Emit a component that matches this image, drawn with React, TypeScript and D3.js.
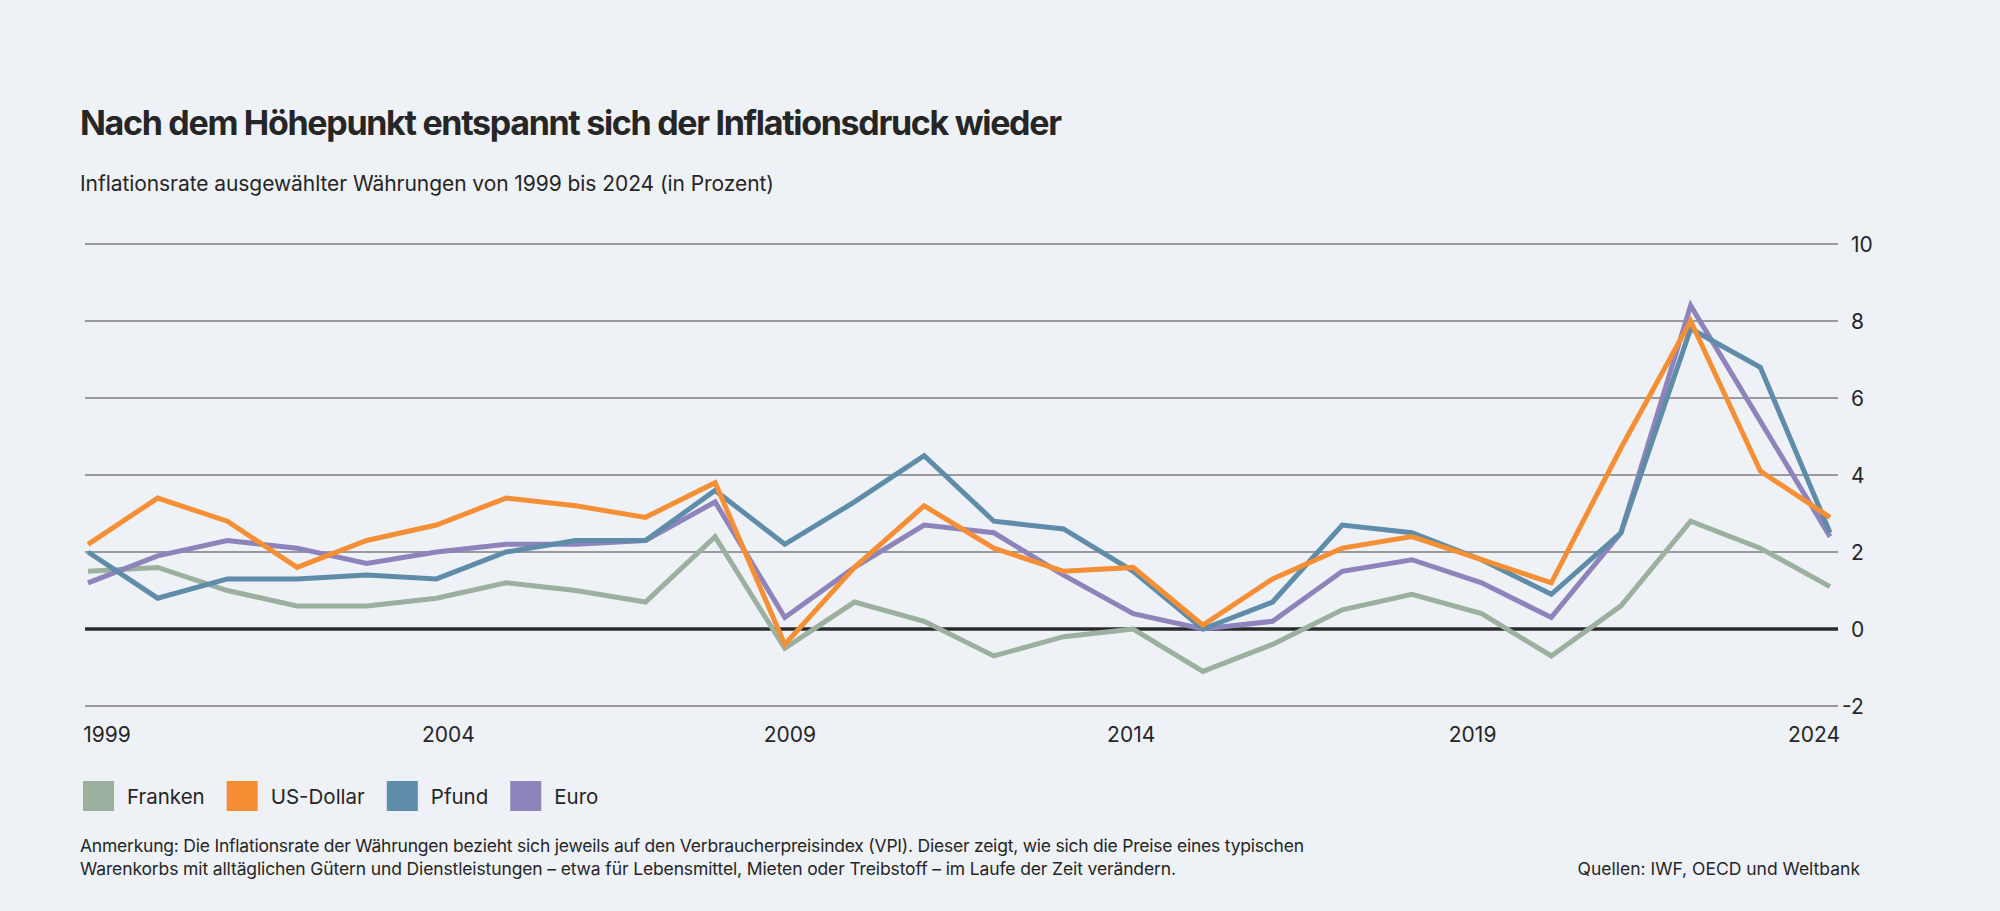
import React, { useRef, useEffect } from "react";
import * as d3 from "d3";

// Jahre (x-Achse)
const years = [
  1999, 2000, 2001, 2002, 2003, 2004, 2005, 2006, 2007, 2008, 2009, 2010, 2011,
  2012, 2013, 2014, 2015, 2016, 2017, 2018, 2019, 2020, 2021, 2022, 2023, 2024,
];

// Inflationsraten in Prozent
const franken = [
  1.5, 1.6, 1.0, 0.6, 0.6, 0.8, 1.2, 1.0, 0.7, 2.4, -0.5, 0.7, 0.2, -0.7, -0.2,
  0.0, -1.1, -0.4, 0.5, 0.9, 0.4, -0.7, 0.6, 2.8, 2.1, 1.1,
];
const usDollar = [
  2.2, 3.4, 2.8, 1.6, 2.3, 2.7, 3.4, 3.2, 2.9, 3.8, -0.4, 1.6, 3.2, 2.1, 1.5,
  1.6, 0.1, 1.3, 2.1, 2.4, 1.8, 1.2, 4.7, 8.0, 4.1, 2.9,
];
const pfund = [
  2.0, 0.8, 1.3, 1.3, 1.4, 1.3, 2.0, 2.3, 2.3, 3.6, 2.2, 3.3, 4.5, 2.8, 2.6,
  1.5, 0.0, 0.7, 2.7, 2.5, 1.8, 0.9, 2.5, 7.8, 6.8, 2.5,
];
const euro = [
  1.2, 1.9, 2.3, 2.1, 1.7, 2.0, 2.2, 2.2, 2.3, 3.3, 0.3, 1.6, 2.7, 2.5, 1.4,
  0.4, 0.0, 0.2, 1.5, 1.8, 1.2, 0.3, 2.5, 8.4, 5.4, 2.4,
];

const yTicks = [-2, 0, 2, 4, 6, 8, 10];
const xTicks = [1999, 2004, 2009, 2014, 2019, 2024];

const legendNames = ["Franken", "US-Dollar", "Pfund", "Euro"];
const colors = ["#9bb09e", "#f58f35", "#5f8ca9", "#8e83ba"];

const title = "Nach dem Höhepunkt entspannt sich der Inflationsdruck wieder";
const subtitle =
  "Inflationsrate ausgewählter Währungen von 1999 bis 2024 (in Prozent)";
const noteLines = [
  "Anmerkung: Die Inflationsrate der Währungen bezieht sich jeweils auf den Verbraucherpreisindex (VPI). Dieser zeigt, wie sich die Preise eines typischen",
  "Warenkorbs mit alltäglichen Gütern und Dienstleistungen – etwa für Lebensmittel, Mieten oder Treibstoff – im Laufe der Zeit verändern.",
];
const source = "Quellen: IWF, OECD und Weltbank";

interface Series {
  name: string;
  values: number[];
  color: string;
}

const App: React.FC = () => {
  const svgRef = useRef<SVGSVGElement>(null);

  useEffect(() => {
    if (!svgRef.current) return;
    const svg = d3.select(svgRef.current);
    svg.selectAll("*").remove();

    const width = 2000;
    const height = 911;
    const textColor = "#262626";

    svg
      .attr("width", width)
      .attr("height", height)
      .attr("viewBox", [0, 0, width, height])
      .style("font-family", "Inter, 'Noto Sans', sans-serif");

    svg
      .append("rect")
      .attr("width", width)
      .attr("height", height)
      .attr("fill", "#eef1f6");

    const series: Series[] = [
      { name: "Franken", values: franken, color: colors[0] },
      { name: "US-Dollar", values: usDollar, color: colors[1] },
      { name: "Pfund", values: pfund, color: colors[2] },
      { name: "Euro", values: euro, color: colors[3] },
    ];
    // which one lies on top
    const drawOrder = ["Franken", "Euro", "Pfund", "US-Dollar"];

    const left = 85;
    const right = 1838;
    const x = d3.scaleLinear().domain([1999, 2024]).range([88, 1830]);
    const xLabel = d3.scaleLinear().domain([1999, 2024]).range([107, 1814]);
    const y = d3.scaleLinear().domain([-2, 10]).range([706, 244]);

    // Title + subtitle
    svg
      .append("text")
      .attr("x", 80)
      .attr("y", 135)
      .attr("fill", textColor)
      .attr("font-size", 34)
      .attr("font-weight", 700)
      .attr("textLength", 982)
      .attr("lengthAdjust", "spacing")
      .text(title);

    svg
      .append("text")
      .attr("x", 80)
      .attr("y", 191)
      .attr("fill", textColor)
      .attr("font-size", 21)
      .attr("textLength", 694)
      .attr("lengthAdjust", "spacing")
      .text(subtitle);

    // Gridlines
    svg
      .append("g")
      .selectAll("line")
      .data(yTicks)
      .join("line")
      .attr("x1", left)
      .attr("x2", right)
      .attr("y1", (d) => y(d))
      .attr("y2", (d) => y(d))
      .attr("stroke", (d) => (d === 0 ? "#2a2a2a" : "#7b7d82"))
      .attr("stroke-width", (d) => (d === 0 ? 3.5 : 1.5));

    // y tick labels on the right
    const yLabels = svg
      .append("g")
      .attr("font-size", 21)
      .attr("fill", textColor)
      .selectAll("text")
      .data(yTicks)
      .join("text")
      .attr("x", right + 13)
      .attr("y", (d) => y(d))
      .attr("dy", "0.36em")
      .text((d) => String(d));
    yLabels
      .filter((d) => d < 0)
      .attr("dx", function () {
        return -(this as SVGTextElement).getSubStringLength(0, 1);
      });

    // x tick labels
    svg
      .append("g")
      .attr("font-size", 21)
      .attr("fill", textColor)
      .attr("text-anchor", "middle")
      .selectAll("text")
      .data(xTicks)
      .join("text")
      .attr("x", (d) => xLabel(d))
      .attr("y", 742)
      .text((d) => String(d));

    // Lines
    const line = d3
      .line<number>()
      .x((_, i) => x(years[i]))
      .y((d) => y(d));

    svg
      .append("g")
      .attr("fill", "none")
      .attr("stroke-width", 5)
      .selectAll("path")
      .data(drawOrder.map((n) => series.find((s) => s.name === n) as Series))
      .join("path")
      .attr("stroke", (d) => d.color)
      .attr("d", (d) => line(d.values));

    // Legend
    const legend = svg
      .append("g")
      .attr("font-size", 20.5)
      .attr("fill", textColor);
    let lx = 83;
    legendNames.forEach((name, i) => {
      legend
        .append("rect")
        .attr("x", lx)
        .attr("y", 781)
        .attr("width", 31)
        .attr("height", 30)
        .attr("fill", colors[i]);
      const t = legend
        .append("text")
        .attr("x", lx + 44)
        .attr("y", 803.5)
        .text(name);
      const w = (t.node() as SVGTextElement).getComputedTextLength();
      lx += 44 + w + 22;
    });

    // Footer
    const note = svg
      .append("g")
      .attr("font-size", 17.5)
      .attr("fill", textColor);
    note
      .append("text")
      .attr("x", 80)
      .attr("y", 852)
      .attr("textLength", 1224)
      .attr("lengthAdjust", "spacing")
      .text(noteLines[0]);
    note
      .append("text")
      .attr("x", 80)
      .attr("y", 875)
      .attr("textLength", 1096)
      .attr("lengthAdjust", "spacing")
      .text(noteLines[1]);
    note
      .append("text")
      .attr("x", 1860)
      .attr("y", 875)
      .attr("text-anchor", "end")
      .text(source);
  }, []);

  return (
    <svg
      ref={svgRef}
      style={{ position: "absolute", left: 0, top: 0, display: "block" }}
    />
  );
};

export default App;
